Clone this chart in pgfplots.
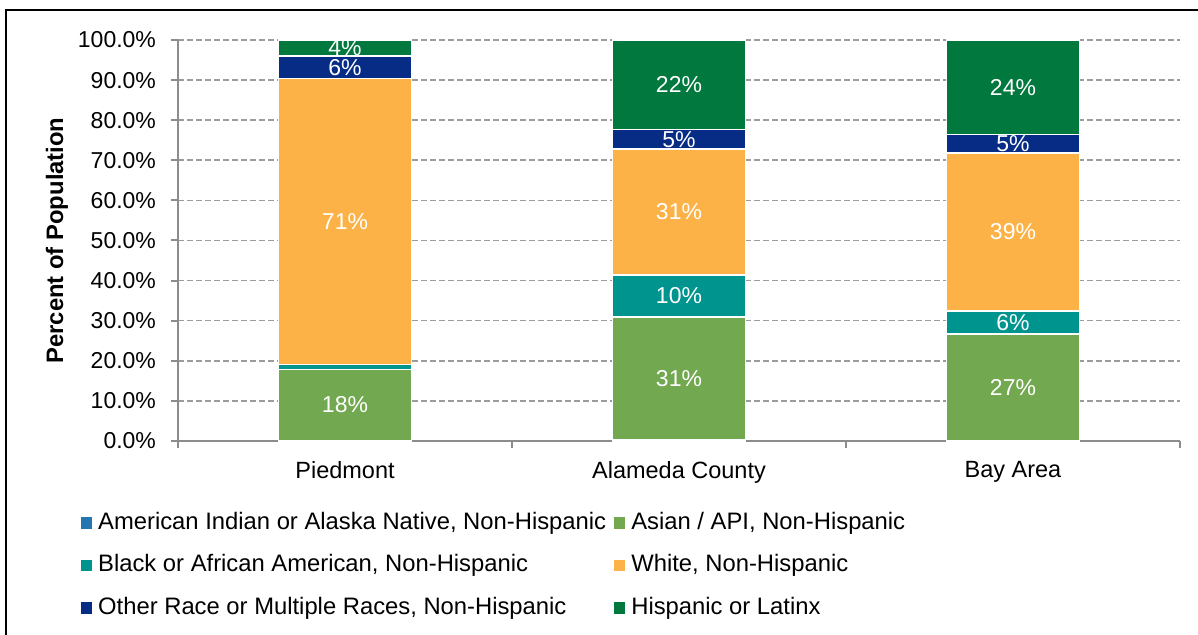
\documentclass[border=0pt]{standalone}
\usepackage{fontspec}
\setmainfont{Liberation Sans}
\usepackage{pgfplots}
\pgfplotsset{compat=1.18}

\definecolor{cAI}{HTML}{2377B1}
\definecolor{cAsian}{HTML}{72A84F}
\definecolor{cBlack}{HTML}{00948F}
\definecolor{cWhite}{HTML}{FDB248}
\definecolor{cOther}{HTML}{062C86}
\definecolor{cHisp}{HTML}{00783E}
\definecolor{axisgray}{HTML}{8C8C8C}
\definecolor{gridgray}{HTML}{9C9C9C}

% one filled square per series in the legend
\pgfplotsset{
  seg/.style={fill=#1, draw=white, line width=0.6pt,
    legend image code/.code={\fill[#1] (0pt,-2.5pt) rectangle (5pt,2.5pt);}},
}

\begin{document}
\fontsize{11.5}{13.8}\selectfont
\begin{tikzpicture}
\path[use as bounding box] (0,0) rectangle (599pt,-317.5pt);
\draw[line width=1pt] (3pt,-330pt) -- (3pt,-5pt) -- (610pt,-5pt);
\begin{axis}[
  at={(89pt,-220.5pt)}, anchor=south west,
  scale only axis, width=501pt, height=200.5pt,
  ybar stacked, bar width=0.4,
  xmin=-0.5, xmax=2.5, ymin=0, ymax=100,
  axis x line*=bottom, axis y line*=left,
  axis line style={draw=axisgray, line width=1pt},
  tick style={draw=axisgray, line width=1pt},
  tick align=outside, major tick length=3.5pt,
  xtick={-0.5,0.5,1.5,2.5}, xticklabels={},
  extra x ticks={0,1,2},
  extra x tick labels={Piedmont,Alameda County,Bay Area},
  extra x tick style={major tick length=0pt,
    xticklabel style={font=\fontsize{11.75}{14}\selectfont, yshift=-6pt}},
  ytick={0,10,...,100},
  yticklabels={0.0\%,10.0\%,20.0\%,30.0\%,40.0\%,50.0\%,60.0\%,70.0\%,80.0\%,90.0\%,100.0\%},
  yticklabel style={xshift=-3.5pt},
  ymajorgrids,
  grid style={gridgray, line width=0.8pt, dash pattern=on 3pt off 1.5pt},
  ylabel={\bfseries Percent of Population},
  ylabel style={at={(axis description cs:-0.1208,0.5)}, anchor=center,
    font=\fontsize{11.9}{14}\selectfont},
  point meta=explicit symbolic,
  every node near coord/.append style={text=white, anchor=center,
    font=\fontsize{11.5}{13}\selectfont},
  legend columns=2,
  legend cell align=left,
  legend style={at={(-0.0968,-0.177)}, anchor=north west,
    draw=none, fill=none, inner sep=0pt, outer sep=0pt,
    font=\fontsize{11.9}{14}\selectfont, row sep=10.25pt,
    nodes={inner sep=0pt, text height=8.6pt, text depth=2.4pt},
    /tikz/every odd column/.append style={column sep=3pt},
    /tikz/every even column/.append style={column sep=4pt}},
]
\addplot[seg=cAI] coordinates {(0,0.2) [] (1,0.3) [] (2,0.1) []};
\addplot[seg=cAsian, nodes near coords] coordinates {(0,17.6) [18\%] (1,30.6) [31\%] (2,26.6) [27\%]};
\addplot[seg=cBlack, nodes near coords] coordinates {(0,1.3) [] (1,10.5) [10\%] (2,5.7) [6\%]};
\addplot[seg=cWhite, nodes near coords] coordinates {(0,71.2) [71\%] (1,31.4) [31\%] (2,39.4) [39\%]};
\addplot[seg=cOther, nodes near coords] coordinates {(0,5.7) [6\%] (1,4.9) [5\%] (2,4.6) [5\%]};
\addplot[seg=cHisp, nodes near coords] coordinates {(0,4.0) [4\%] (1,22.3) [22\%] (2,23.6) [24\%]};
\legend{{American Indian or Alaska Native, Non-Hispanic},
  {Asian / API, Non-Hispanic},
  {Black or African American, Non-Hispanic},
  {White, Non-Hispanic},
  {Other Race or Multiple Races, Non-Hispanic},
  {Hispanic or Latinx}}
\end{axis}
\end{tikzpicture}
\end{document}
